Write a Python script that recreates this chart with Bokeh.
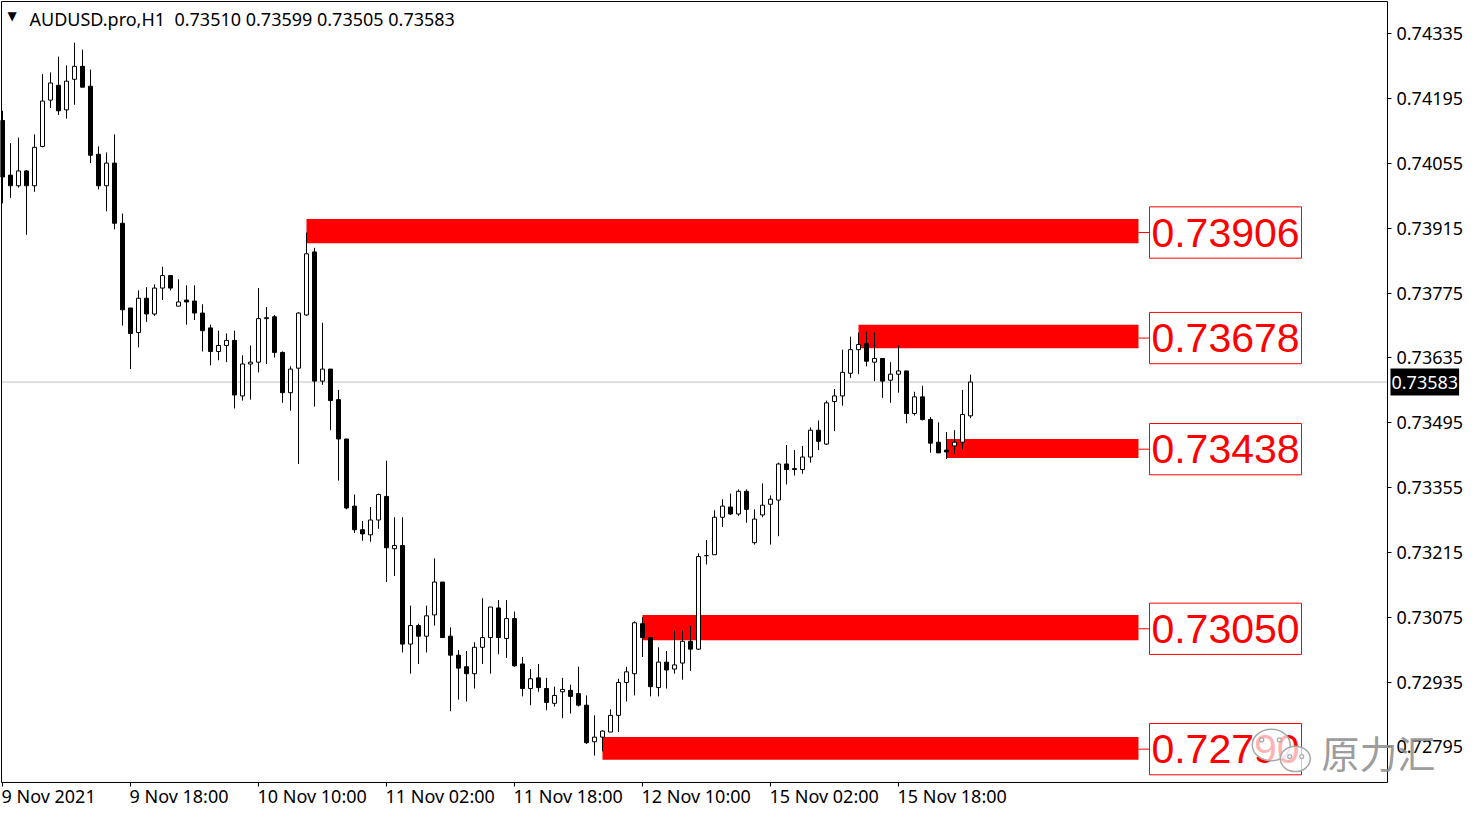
import numpy as np
from bokeh.plotting import figure
from bokeh.models import Range1d, FixedTicker, PrintfTickFormatter, Label, ColumnDataSource, LinearAxis
from bokeh.core.properties import value
from bokeh.embed import file_html
from bokeh.resources import INLINE

# ---------------- data (AUDUSD.pro, H1) ----------------
symbol = "AUDUSD.pro,H1"
opens = [0.74148, 0.74030, 0.74007, 0.74039, 0.74007, 0.74092, 0.74192, 0.74224, 0.74171, 0.74237,
         0.74265, 0.74222, 0.74075, 0.74007, 0.74056, 0.73926, 0.73743, 0.73690, 0.73764, 0.73730,
         0.73786, 0.73813, 0.73747, 0.73760, 0.73758, 0.73732, 0.73700, 0.73649, 0.73662, 0.73673,
         0.73553, 0.73622, 0.73626, 0.73720, 0.73724, 0.73647, 0.73560, 0.73613, 0.73728, 0.73864,
         0.73585, 0.73611, 0.73545, 0.73460, 0.73315, 0.73264, 0.73253, 0.73285, 0.73336, 0.73223,
         0.73230, 0.73017, 0.73057, 0.73034, 0.73080, 0.73151, 0.73034, 0.72993, 0.72968, 0.72953,
         0.73010, 0.73031, 0.73095, 0.73029, 0.73072, 0.72974, 0.72921, 0.72944, 0.72921, 0.72889,
         0.72914, 0.72917, 0.72910, 0.72885, 0.72806, 0.72816, 0.72827, 0.72863, 0.72934, 0.72953,
         0.73061, 0.73031, 0.72923, 0.72978, 0.72963, 0.72976, 0.73023, 0.73006, 0.73208, 0.73210,
         0.73291, 0.73313, 0.73298, 0.73347, 0.73236, 0.73296, 0.73319, 0.73328, 0.73406, 0.73396,
         0.73394, 0.73421, 0.73479, 0.73449, 0.73541, 0.73553, 0.73602, 0.73653, 0.73666, 0.73626,
         0.73634, 0.73587, 0.73600, 0.73607, 0.73515, 0.73551, 0.73502, 0.73453, 0.73436, 0.73445,
         0.73453, 0.73510]
highs = [0.74169, 0.74099, 0.74111, 0.74041, 0.74118, 0.74248, 0.74252, 0.74286, 0.74267, 0.74316,
         0.74301, 0.74258, 0.74092, 0.74079, 0.74118, 0.73947, 0.73743, 0.73781, 0.73788, 0.73794,
         0.73832, 0.73813, 0.73805, 0.73792, 0.73792, 0.73751, 0.73707, 0.73694, 0.73688, 0.73694,
         0.73641, 0.73662, 0.73786, 0.73745, 0.73728, 0.73649, 0.73617, 0.73734, 0.73906, 0.73873,
         0.73711, 0.73611, 0.73566, 0.73460, 0.73340, 0.73283, 0.73313, 0.73342, 0.73413, 0.73291,
         0.73291, 0.73100, 0.73061, 0.73100, 0.73202, 0.73151, 0.73053, 0.73004, 0.73002, 0.73021,
         0.73116, 0.73097, 0.73112, 0.73112, 0.73087, 0.72989, 0.72963, 0.72974, 0.72944, 0.72925,
         0.72944, 0.72929, 0.72968, 0.72906, 0.72863, 0.72831, 0.72876, 0.72942, 0.72968, 0.73066,
         0.73075, 0.73031, 0.73010, 0.73002, 0.73046, 0.73046, 0.73057, 0.73213, 0.73242, 0.73306,
         0.73330, 0.73342, 0.73351, 0.73351, 0.73308, 0.73364, 0.73338, 0.73409, 0.73447, 0.73436,
         0.73445, 0.73485, 0.73500, 0.73543, 0.73568, 0.73653, 0.73681, 0.73690, 0.73692, 0.73690,
         0.73634, 0.73626, 0.73662, 0.73607, 0.73562, 0.73575, 0.73507, 0.73496, 0.73475, 0.73479,
         0.73566, 0.73599]
lows = [0.73969, 0.73981, 0.74003, 0.73901, 0.73994, 0.74090, 0.74175, 0.74160, 0.74152, 0.74182,
        0.74220, 0.74056, 0.73999, 0.73952, 0.73913, 0.73705, 0.73611, 0.73658, 0.73713, 0.73726,
        0.73760, 0.73781, 0.73747, 0.73707, 0.73717, 0.73649, 0.73619, 0.73630, 0.73626, 0.73526,
        0.73543, 0.73545, 0.73604, 0.73622, 0.73636, 0.73538, 0.73521, 0.73406, 0.73726, 0.73530,
        0.73577, 0.73479, 0.73370, 0.73308, 0.73257, 0.73240, 0.73238, 0.73266, 0.73151, 0.73164,
        0.72999, 0.72953, 0.72974, 0.72999, 0.73057, 0.73031, 0.72872, 0.72897, 0.72893, 0.72921,
        0.72974, 0.72953, 0.72995, 0.72987, 0.72968, 0.72904, 0.72885, 0.72914, 0.72874, 0.72882,
        0.72857, 0.72867, 0.72882, 0.72801, 0.72776, 0.72785, 0.72827, 0.72827, 0.72893, 0.72906,
        0.72989, 0.72904, 0.72904, 0.72921, 0.72953, 0.72940, 0.72959, 0.73004, 0.73189, 0.73210,
        0.73270, 0.73296, 0.73294, 0.73279, 0.73232, 0.73291, 0.73232, 0.73250, 0.73362, 0.73381,
        0.73385, 0.73409, 0.73436, 0.73447, 0.73477, 0.73532, 0.73592, 0.73600, 0.73617, 0.73585,
        0.73549, 0.73538, 0.73560, 0.73494, 0.73511, 0.73500, 0.73430, 0.73430, 0.73417, 0.73428,
        0.73438, 0.73505]
closes = [0.74026, 0.74007, 0.74039, 0.74007, 0.74090, 0.74190, 0.74229, 0.74169, 0.74233, 0.74265,
          0.74220, 0.74073, 0.74007, 0.74056, 0.73926, 0.73739, 0.73688, 0.73764, 0.73730, 0.73786,
          0.73813, 0.73786, 0.73756, 0.73756, 0.73732, 0.73694, 0.73649, 0.73662, 0.73673, 0.73555,
          0.73622, 0.73626, 0.73720, 0.73722, 0.73647, 0.73560, 0.73611, 0.73732, 0.73860, 0.73585,
          0.73611, 0.73543, 0.73460, 0.73311, 0.73264, 0.73255, 0.73285, 0.73340, 0.73225, 0.73230,
          0.73017, 0.73057, 0.73034, 0.73078, 0.73151, 0.73031, 0.72993, 0.72965, 0.72953, 0.73010,
          0.73031, 0.73097, 0.73031, 0.73072, 0.72970, 0.72921, 0.72942, 0.72923, 0.72891, 0.72906,
          0.72919, 0.72904, 0.72885, 0.72804, 0.72816, 0.72829, 0.72863, 0.72934, 0.72957, 0.73063,
          0.73031, 0.72925, 0.72978, 0.72961, 0.72972, 0.73023, 0.73006, 0.73206, 0.73208, 0.73291,
          0.73315, 0.73298, 0.73347, 0.73308, 0.73287, 0.73317, 0.73330, 0.73406, 0.73394, 0.73394,
          0.73421, 0.73479, 0.73455, 0.73538, 0.73553, 0.73604, 0.73653, 0.73664, 0.73628, 0.73634,
          0.73585, 0.73600, 0.73607, 0.73515, 0.73551, 0.73502, 0.73451, 0.73430, 0.73432, 0.73453,
          0.73513, 0.73583]

date_tick_bars = [0, 16, 32, 48, 64, 80, 96, 112]
date_tick_labels = ["9 Nov 2021", "9 Nov 18:00", "10 Nov 10:00", "11 Nov 02:00",
                    "11 Nov 18:00", "12 Nov 10:00", "15 Nov 02:00", "15 Nov 18:00"]
price_ticks = [0.74335, 0.74195, 0.74055, 0.73915, 0.73775, 0.73635,
               0.73495, 0.73355, 0.73215, 0.73075, 0.72935, 0.72795]

zone_levels = [0.73906, 0.73678, 0.73438, 0.73050, 0.72790]
zone_labels = ["0.73906", "0.73678", "0.73438", "0.73050", "0.72790"]
zone_start_bar = [38, 107, 118, 80, 75]
zone_top = [0.73935, 0.73707, 0.73460, 0.73080, 0.72816]
zone_bottom = [0.73883, 0.73656, 0.73419, 0.73025, 0.72767]

watermark_text = "原力汇"

# ---------------- layout constants ----------------
X_START, X_END = -0.25, 182.75            # whole canvas, 8 px per bar
CHART_LEFT, CHART_RIGHT = -0.125, 173.125  # MT4 chart window border
CHART_TOP, CHART_BOTTOM = 0.74405, 0.72718
Y_START, Y_END = 0.726618, 0.744072
ZONE_END = 142.0
BOX_LEFT, BOX_RIGHT = 143.375, 162.375
BOX_HALF = 0.000554
RED = "#ff0000"
FONT = "Noto Sans"

p = figure(width=1464, height=808, output_backend="svg", toolbar_location=None,
           x_range=Range1d(X_START, X_END), y_range=Range1d(Y_START, Y_END),
           x_axis_location=None, y_axis_location=None,
           min_border=0, min_border_left=0, min_border_right=0, min_border_top=0, min_border_bottom=0)
p.background_fill_color = "white"
p.border_fill_color = "white"
p.outline_line_color = None
p.xgrid.visible = False
p.ygrid.visible = False

# price axis (drawn at the chart's right border)
yax = LinearAxis(fixed_location=CHART_RIGHT, ticker=FixedTicker(ticks=price_ticks),
                 formatter=PrintfTickFormatter(format="%.5f"))
yax.major_tick_out = 4
yax.major_tick_in = 0
yax.minor_tick_out = 0
yax.minor_tick_in = 0
yax.major_label_standoff = 5
yax.major_label_text_font = FONT
yax.major_label_text_font_size = "18px"
yax.major_label_text_color = "black"
yax.axis_line_color = None
p.add_layout(yax, "right")

# time axis ticks (drawn at the chart's bottom border)
xax = LinearAxis(fixed_location=CHART_BOTTOM, ticker=FixedTicker(ticks=date_tick_bars))
xax.major_label_overrides = {b: "" for b in date_tick_bars}
xax.major_tick_out = 4
xax.major_tick_in = 0
xax.minor_tick_out = 0
xax.minor_tick_in = 0
xax.axis_line_color = None
p.add_layout(xax, "below")

# current price line
p.segment(x0=[CHART_LEFT], y0=[closes[-1]], x1=[CHART_RIGHT], y1=[closes[-1]],
          line_color="#c0c0c0", line_width=1)

# zones
n = len(zone_levels)
p.quad(left=zone_start_bar, right=[ZONE_END] * n, top=zone_top, bottom=zone_bottom,
       fill_color=RED, line_color=None)
p.segment(x0=[ZONE_END] * n, y0=zone_levels, x1=[BOX_LEFT] * n, y1=zone_levels,
          line_color=RED, line_width=1)
lv = np.array(zone_levels)
p.quad(left=[BOX_LEFT] * n, right=[BOX_RIGHT] * n, top=lv + BOX_HALF, bottom=lv - BOX_HALF,
       fill_color="white", line_color=RED, line_width=1)
p.text(x=[(BOX_LEFT + BOX_RIGHT) / 2] * n, y=zone_levels, text=zone_labels,
       text_align="center", text_baseline="middle", text_color=RED,
       text_font=value("Liberation Sans"), text_font_size=value("41px"))

# candles
o = np.array(opens); h = np.array(highs); l = np.array(lows); c = np.array(closes)
idx = np.arange(len(o))
bull = c >= o
p.segment(x0=idx, y0=h, x1=idx, y1=l, line_color="black", line_width=1)
src_bull = ColumnDataSource(dict(x=idx[bull], top=c[bull], bottom=o[bull]))
src_bear = ColumnDataSource(dict(x=idx[~bull], top=o[~bull], bottom=c[~bull]))
p.vbar(x="x", top="top", bottom="bottom", width=0.5, source=src_bull,
       fill_color="white", line_color="black", line_width=1)
p.vbar(x="x", top="top", bottom="bottom", width=0.5, source=src_bear,
       fill_color="black", line_color="black", line_width=1)

# chart window border
p.segment(x0=[CHART_LEFT, CHART_LEFT, CHART_RIGHT, CHART_LEFT],
          y0=[CHART_BOTTOM, CHART_TOP, CHART_BOTTOM, CHART_BOTTOM],
          x1=[CHART_LEFT, CHART_RIGHT, CHART_RIGHT, CHART_RIGHT],
          y1=[CHART_TOP, CHART_TOP, CHART_TOP, CHART_BOTTOM],
          line_color="black", line_width=1)

# watermark logo (WeChat-like bubbles) over the last label
p.ellipse(x=[158.6, 161.6], y=[0.72799, 0.72769], width=[4.75, 3.75], height=[0.00068, 0.00055],
          fill_color="white", fill_alpha=0.7, line_color="#a8a8a8", line_width=1.5)
p.scatter(x=[157.4, 159.6, 160.9, 162.4], y=[0.72810, 0.72810, 0.72774, 0.72774], size=4,
          fill_color="white", line_color="#a8a8a8", line_width=1.2)

# header
p.add_layout(Label(x=CHART_LEFT, y=CHART_TOP, x_offset=6, y_offset=-14, text="\u25bc",
                   text_font="DejaVu Sans", text_font_size="12px", text_color="black",
                   text_baseline="alphabetic"))
header = f"{symbol}\u00a0\u00a0{opens[-1]:.5f} {highs[-1]:.5f} {lows[-1]:.5f} {closes[-1]:.5f}"
p.add_layout(Label(x=CHART_LEFT, y=CHART_TOP, x_offset=28, y_offset=-17, text=header, text_font=FONT,
                   text_font_size="18px", text_color="black", text_baseline="alphabetic"))

# date labels (left-aligned at their tick, MT4 style)
for b, t in zip(date_tick_bars, date_tick_labels):
    p.add_layout(Label(x=b, y=CHART_BOTTOM, x_offset=-1, y_offset=-14, text=t, text_font=FONT,
                       text_font_size="18px", text_color="black", text_align="left",
                       text_baseline="alphabetic"))

# last price box on the price axis
p.add_layout(Label(x=CHART_RIGHT, y=closes[-1], x_offset=3, text=f"{closes[-1]:.5f}", text_font=FONT,
                   text_font_size="18px", text_color="white", text_align="left",
                   text_baseline="middle", background_fill_color="black", padding=(1, 7)))

# watermark text
p.add_layout(Label(x=CHART_RIGHT, y=zone_levels[-1], x_offset=-66, y_offset=-2, text=watermark_text,
                   text_font="Noto Sans CJK SC", text_font_size="38px", text_color="#8f8f8f",
                   text_alpha=0.9, text_align="left", text_baseline="middle"))

open("out.html", "w").write(file_html(p, INLINE))
